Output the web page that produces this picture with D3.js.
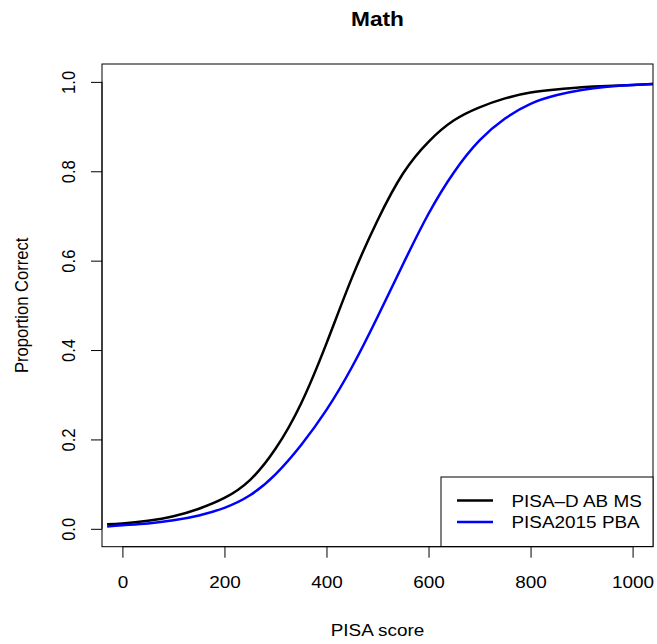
<!DOCTYPE html>
<html>
<head>
<meta charset="utf-8">
<script src="https://cdnjs.cloudflare.com/ajax/libs/d3/7.8.5/d3.min.js"></script>
<style>
body {margin: 0; background: #fff;}
text {font-family: "Liberation Sans", Arial, sans-serif;}
</style>
</head>
<body>
<div id="plot1" style="width:657px;height:644px;"></div>
<script>
// values
var scores = [-30, 0, 50, 100, 150, 200, 250, 300, 350, 400, 450, 500, 550, 600, 650, 700, 750, 800, 850, 900, 950, 1000, 1040];
var pisaD = [0.010, 0.012, 0.018, 0.028, 0.045, 0.069, 0.109, 0.179, 0.280, 0.415, 0.562, 0.690, 0.795, 0.866, 0.914, 0.943, 0.963, 0.976, 0.983, 0.988, 0.991, 0.993, 0.995];
var pisa2015 = [0.005, 0.008, 0.012, 0.019, 0.030, 0.047, 0.075, 0.122, 0.187, 0.266, 0.362, 0.474, 0.592, 0.705, 0.798, 0.869, 0.918, 0.951, 0.970, 0.982, 0.989, 0.993, 0.995];
var seriesNames = ["PISA\u2013D AB MS", "PISA2015 PBA"];
var seriesColors = ["#000000", "#0000ff"];
var xTicks = [0, 200, 400, 600, 800, 1000];
var yTicks = [0, 0.2, 0.4, 0.6, 0.8, 1.0];

var W = 657, H = 644;
var margin = {t: 64, r: 4, b: 97.3, l: 102};
var width = W - margin.l - margin.r,
    height = H - margin.t - margin.b;
var fs = 16.6;      // font size
var sx = 'scale(1.14,1)'; // the original text is a bit wider than tall

var svg = d3.select('#plot1')
    .append('svg')
    .attr('width', W)
    .attr('height', H);

var plot = svg.append('g').attr('transform', 'translate(' + margin.l + ',' + margin.t + ')');

var x = d3.scaleLinear().domain([-40, 1040]).range([0, width]);
var y = d3.scaleLinear().domain([-0.04, 1.04]).range([height, 0]);

// clip the curves to the plot region like R does
svg.append('clipPath').attr('id', 'clip')
    .append('rect').attr('width', width).attr('height', height);

var line = d3.line()
    .x(function(d){return x(d[0])})
    .y(function(d){return y(d[1])})
    .curve(d3.curveNatural);

var series = [pisaD, pisa2015];
series.forEach(function(vals, i){
    plot.append('path')
        .datum(scores.map(function(s, j){return [s, vals[j]]}))
        .attr('clip-path', 'url(#clip)')
        .attr('d', line)
        .attr('fill', 'none')
        .attr('stroke', seriesColors[i])
        .attr('stroke-width', 2.5);
});

// axes
var xAxis = plot.append('g')
    .attr('transform', 'translate(0,' + height + ')')
    .call(d3.axisBottom(x).tickValues(xTicks).tickSize(11).tickFormat(d3.format('d')));
xAxis.select('.domain').attr('d', 'M' + x(0) + ',0H' + x(1000));
xAxis.selectAll('text')
    .attr('font-size', fs).attr('fill', '#000')
    .attr('y', 0).attr('dy', 0)
    .attr('transform', 'translate(0,41.5) ' + sx);

var yAxis = plot.append('g')
    .call(d3.axisLeft(y).tickValues(yTicks).tickSize(11).tickFormat(d3.format('.1f')));
yAxis.select('.domain').attr('d', 'M0,' + y(0) + 'V' + y(1));
yAxis.selectAll('text')
    .attr('font-size', fs)
    .attr('fill', '#000')
    .attr('text-anchor', 'middle')
    .attr('x', 0).attr('dy', 0)
    .attr('transform', 'translate(-27,0) ' + sx + ' rotate(-90)');

// box
plot.append('rect')
    .attr('width', width).attr('height', height)
    .attr('fill', 'none').attr('stroke', '#000').attr('stroke-width', 1);

// titles
svg.append('text')
    .attr('transform', 'translate(' + (margin.l + width / 2) + ',26) ' + sx)
    .attr('text-anchor', 'middle')
    .attr('font-size', fs * 1.2).attr('font-weight', 'bold')
    .text('Math');

svg.append('text')
    .attr('transform', 'translate(' + (margin.l + width / 2) + ',636) ' + sx)
    .attr('text-anchor', 'middle')
    .attr('font-size', fs)
    .text('PISA score');

svg.append('text')
    .attr('transform', 'translate(28,' + (margin.t + height / 2) + ') ' + sx + ' rotate(-90)')
    .attr('text-anchor', 'middle')
    .attr('font-size', fs)
    .text('Proportion Correct');

// legend
var legend = svg.append('g').attr('transform', 'translate(441,477)');
legend.append('rect')
    .attr('width', W - margin.r - 441).attr('height', 69.5)
    .attr('fill', '#fff').attr('stroke', '#000').attr('stroke-width', 1);
seriesNames.forEach(function(name, i){
    var ly = 23.5 + i * 21.6;
    legend.append('line')
        .attr('x1', 16).attr('x2', 52).attr('y1', ly).attr('y2', ly)
        .attr('stroke', seriesColors[i]).attr('stroke-width', 2.5);
    legend.append('text')
        .attr('transform', 'translate(70.5,' + (ly + 6) + ') ' + sx)
        .attr('font-size', fs)
        .text(name);
});
</script>
</body>
</html>
